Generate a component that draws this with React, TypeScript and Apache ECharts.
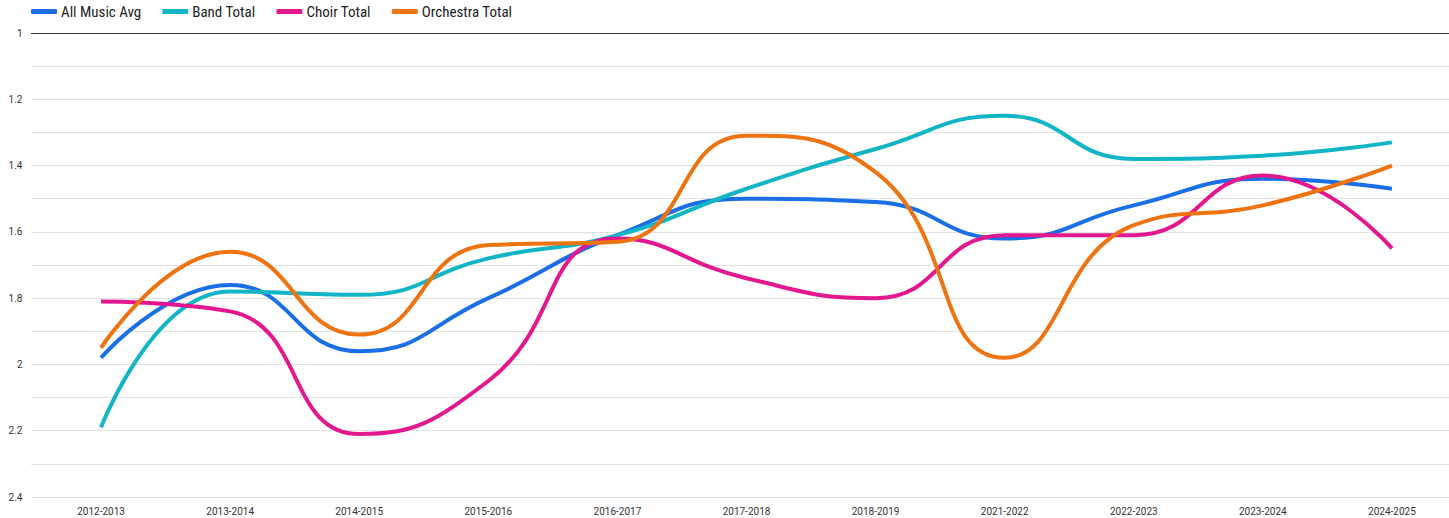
import React, { useEffect, useRef } from "react";
import * as echarts from "echarts";

const categories = [
  "2012-2013", "2013-2014", "2014-2015", "2015-2016", "2016-2017", "2017-2018",
  "2018-2019", "2021-2022", "2022-2023", "2023-2024", "2024-2025",
];
const allMusicAvg = [1.98, 1.76, 1.96, 1.8, 1.61, 1.5, 1.51, 1.62, 1.52, 1.44, 1.47];
const bandTotal = [2.19, 1.78, 1.79, 1.68, 1.61, 1.47, 1.35, 1.25, 1.38, 1.37, 1.33];
const choirTotal = [1.81, 1.84, 2.21, 2.05, 1.62, 1.74, 1.8, 1.61, 1.61, 1.43, 1.65];
const orchestraTotal = [1.95, 1.66, 1.91, 1.64, 1.63, 1.31, 1.42, 1.98, 1.58, 1.52, 1.4];
const yTickLabels = ["1", "1.2", "1.4", "1.6", "1.8", "2", "2.2", "2.4"];

const seriesNames = ["All Music Avg", "Band Total", "Choir Total", "Orchestra Total"];
const seriesColors = ["#1a6fe6", "#12b5c6", "#e3188f", "#ee7311"];

export default function App() {
  const ref = useRef<HTMLDivElement>(null);
  useEffect(() => {
    document.body.style.margin = "0";
    const chart = echarts.init(ref.current!, null, { renderer: "svg" });
    const data = [allMusicAvg, bandTotal, choirTotal, orchestraTotal];
    const gridColors = Array.from({ length: 15 }, (_, i) => (i === 0 ? "#333333" : "#e2e2e2"));
    chart.setOption({
      animation: false,
      backgroundColor: "#ffffff",
      textStyle: { fontFamily: "Roboto, sans-serif" },
      legend: {
        left: 31,
        top: 4,
        padding: 0,
        itemWidth: 26,
        itemHeight: 5,
        itemGap: 21,
        icon: "roundRect",
        textStyle: {
          fontSize: 15,
          color: "#222222",
          fontFamily: "'Liberation Sans Narrow', 'Roboto Condensed', Roboto, sans-serif",
          padding: [0, 0, 0, -1],
        },
        data: seriesNames,
      },
      grid: [
        { left: 36.5, top: 33, width: 1420, height: 464, outerBoundsMode: "none" },
        { left: 31, top: 33, right: 0, height: 464, outerBoundsMode: "none" },
      ],
      xAxis: [
        {
          type: "category",
          gridIndex: 0,
          data: categories,
          boundaryGap: true,
          axisLine: { show: false },
          axisTick: { show: false },
          axisLabel: { fontSize: 10, color: "#333333", margin: 9 },
        },
        { type: "value", gridIndex: 1, show: false, min: 0, max: 1 },
      ],
      yAxis: [
        {
          type: "value",
          gridIndex: 0,
          inverse: true,
          min: 1,
          max: 2.4,
          interval: 0.1,
          axisLine: { show: false },
          axisTick: { show: false },
          splitLine: { show: false },
          axisLabel: {
            fontSize: 10,
            color: "#333333",
            margin: 14,
            formatter: (v: number) => {
              const s = String(Math.round(v * 10) / 10);
              return yTickLabels.includes(s) ? s : "";
            },
          },
        },
        {
          type: "value",
          gridIndex: 1,
          inverse: true,
          min: 1,
          max: 2.4,
          interval: 0.1,
          axisLine: { show: false },
          axisTick: { show: false },
          axisLabel: { show: false },
          splitLine: { lineStyle: { color: gridColors, width: 1 } },
        },
      ],
      series: seriesNames.map((name, i) => ({
        name,
        type: "line",
        xAxisIndex: 0,
        yAxisIndex: 0,
        data: data[i],
        smooth: 0.5,
        showSymbol: false,
        symbol: "none",
        z: 3,
        itemStyle: { color: seriesColors[i] },
        lineStyle: { color: seriesColors[i], width: 4 },
      })),
    });
    return () => chart.dispose();
  }, []);
  return <div ref={ref} style={{ width: 1449, height: 518 }} />;
}
